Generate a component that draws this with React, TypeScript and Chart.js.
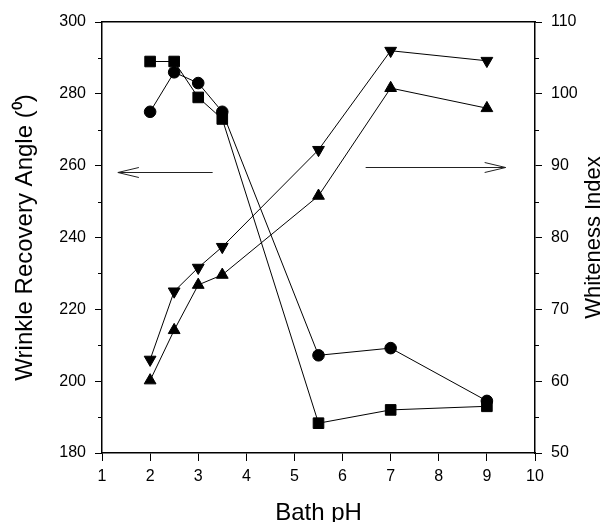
import React, { useEffect, useRef } from "react";
import { Chart, registerables } from "chart.js";

Chart.register(...registerables);

const phValues = [2, 2.5, 3, 3.5, 5.5, 7, 9];
const wraCircle = [275, 286, 283, 275, 207.2, 209.2, 194.5];
const wraSquare = [289, 289, 279, 273, 188.3, 192, 193];
const whiteDown = [63, 72.5, 75.8, 78.7, 92.2, 106, 104.6];
const whiteUp = [60.1, 67.1, 73.4, 74.8, 85.8, 100.8, 98];

const xTitle = "Bath pH";
const yTitle = "Wrinkle Recovery Angle (⁰)";
const y1Title = "Whiteness Index";

// arrows: from x -> to x at a y value on the given axis
const arrowLeft = { from: 3.3, to: 1.33, y: 258.2, axis: "y" };
const arrowRight = { from: 6.48, to: 9.39, y: 89.8, axis: "y1" };

const FONT = "'Liberation Sans', Arial, sans-serif";

const pts = (ys: number[]) => phValues.map((x, i) => ({ x, y: ys[i] }));

const extrasPlugin = {
  id: "extras",
  afterDraw(chart: any) {
    const ctx = chart.ctx;
    const xs = chart.scales.x;
    const ca = chart.chartArea;
    ctx.save();
    // minor ticks
    ctx.strokeStyle = "#000";
    ctx.lineWidth = 1;
    const drawMinor = (scale: any, left: boolean) => {
      const ticks = scale.ticks;
      for (let i = 0; i < ticks.length - 1; i++) {
        const v = (ticks[i].value + ticks[i + 1].value) / 2;
        const py = Math.round(scale.getPixelForValue(v)) + 0.5;
        const ax = left ? ca.left : ca.right;
        ctx.beginPath();
        ctx.moveTo(ax, py);
        ctx.lineTo(left ? ax - 4 : ax + 4, py);
        ctx.stroke();
      }
    };
    drawMinor(chart.scales.y, true);
    drawMinor(chart.scales.y1, false);
    // arrows
    ctx.strokeStyle = "#222";
    ctx.lineWidth = 1;
    [arrowLeft, arrowRight].forEach((a) => {
      const ys = chart.scales[a.axis];
      const x0 = xs.getPixelForValue(a.from);
      const x1 = xs.getPixelForValue(a.to);
      const py = Math.round(ys.getPixelForValue(a.y)) + 0.5;
      const dir = x1 > x0 ? 1 : -1;
      ctx.beginPath();
      ctx.moveTo(x0, py);
      ctx.lineTo(x1, py);
      ctx.moveTo(x1 - dir * 21, py - 5);
      ctx.lineTo(x1, py);
      ctx.lineTo(x1 - dir * 21, py + 5);
      ctx.stroke();
    });
    // titles
    ctx.fillStyle = "#000";
    ctx.font = `24px ${FONT}`;
    ctx.textAlign = "center";
    ctx.textBaseline = "alphabetic";
    const cy = (ca.top + ca.bottom) / 2;
    const cx = (ca.left + ca.right) / 2;
    ctx.fillText(xTitle, cx, chart.height - 2);
    ctx.save();
    ctx.translate(32, cy);
    ctx.rotate(-Math.PI / 2);
    ctx.fillText(yTitle, 0, 0);
    ctx.restore();
    ctx.save();
    ctx.font = `22px ${FONT}`;
    ctx.translate(chart.width - 4, cy);
    ctx.rotate(-Math.PI / 2);
    ctx.fillText(y1Title, 0, 0);
    ctx.restore();
    ctx.restore();
  },
};

export default function App() {
  const ref = useRef<HTMLCanvasElement | null>(null);
  useEffect(() => {
    if (!ref.current) return;
    const common = {
      borderColor: "#000",
      backgroundColor: "#000",
      pointBackgroundColor: "#000",
      pointBorderColor: "#000",
      borderWidth: 1,
      showLine: true,
      tension: 0,
    };
    const tickFont = { family: FONT, size: 16 };
    const chart = new Chart(ref.current, {
      type: "scatter",
      data: {
        datasets: [
          { ...common, label: "WRA circle", data: pts(wraCircle), yAxisID: "y", pointStyle: "circle", pointRadius: 5.8 },
          { ...common, label: "WRA square", data: pts(wraSquare), yAxisID: "y", pointStyle: "rect", pointRadius: 7.5 },
          { ...common, label: "WI down", data: pts(whiteDown), yAxisID: "y1", pointStyle: "triangle", pointRotation: 180, pointRadius: 6.8 },
          { ...common, label: "WI up", data: pts(whiteUp), yAxisID: "y1", pointStyle: "triangle", pointRadius: 6.8 },
        ],
      },
      options: {
        responsive: false,
        animation: false,
        devicePixelRatio: 1,
        layout: { padding: 0 },
        plugins: { legend: { display: false }, tooltip: { enabled: false } },
        scales: {
          x: {
            type: "linear",
            position: "bottom",
            min: 1,
            max: 10,
            ticks: { stepSize: 1, color: "#000", font: tickFont, padding: 6, maxRotation: 0 },
            grid: { drawOnChartArea: false, drawTicks: true, tickLength: 8, color: "#000", tickWidth: 1 },
            border: { display: true, color: "#000", width: 1.5 },
            afterFit: (s: any) => { s.height = 69; },
          },
          x2: {
            type: "linear",
            position: "top",
            min: 1,
            max: 10,
            ticks: { display: false },
            grid: { drawOnChartArea: false, drawTicks: false },
            border: { display: true, color: "#000", width: 1.5 },
            afterFit: (s: any) => { s.height = 22; },
          },
          y: {
            type: "linear",
            position: "left",
            min: 180,
            max: 300,
            ticks: { stepSize: 20, color: "#000", font: tickFont, padding: 9 },
            grid: { drawOnChartArea: false, drawTicks: true, tickLength: 7, color: "#000", tickWidth: 1 },
            border: { display: true, color: "#000", width: 1.5 },
            afterFit: (s: any) => { s.width = 102; },
          },
          y1: {
            type: "linear",
            position: "right",
            min: 50,
            max: 110,
            ticks: { stepSize: 10, color: "#000", font: tickFont, padding: 9 },
            grid: { drawOnChartArea: false, drawTicks: true, tickLength: 7, color: "#000", tickWidth: 1 },
            border: { display: true, color: "#000", width: 1.5 },
            afterFit: (s: any) => { s.width = 69; },
          },
        },
      },
      plugins: [extrasPlugin],
    } as any);
    return () => chart.destroy();
  }, []);
  return (
    <div style={{ position: "fixed", left: 0, top: 0, width: 604, height: 522, background: "#fff" }}>
      <canvas ref={ref} width={604} height={522} style={{ width: 604, height: 522, display: "block" }} />
    </div>
  );
}
